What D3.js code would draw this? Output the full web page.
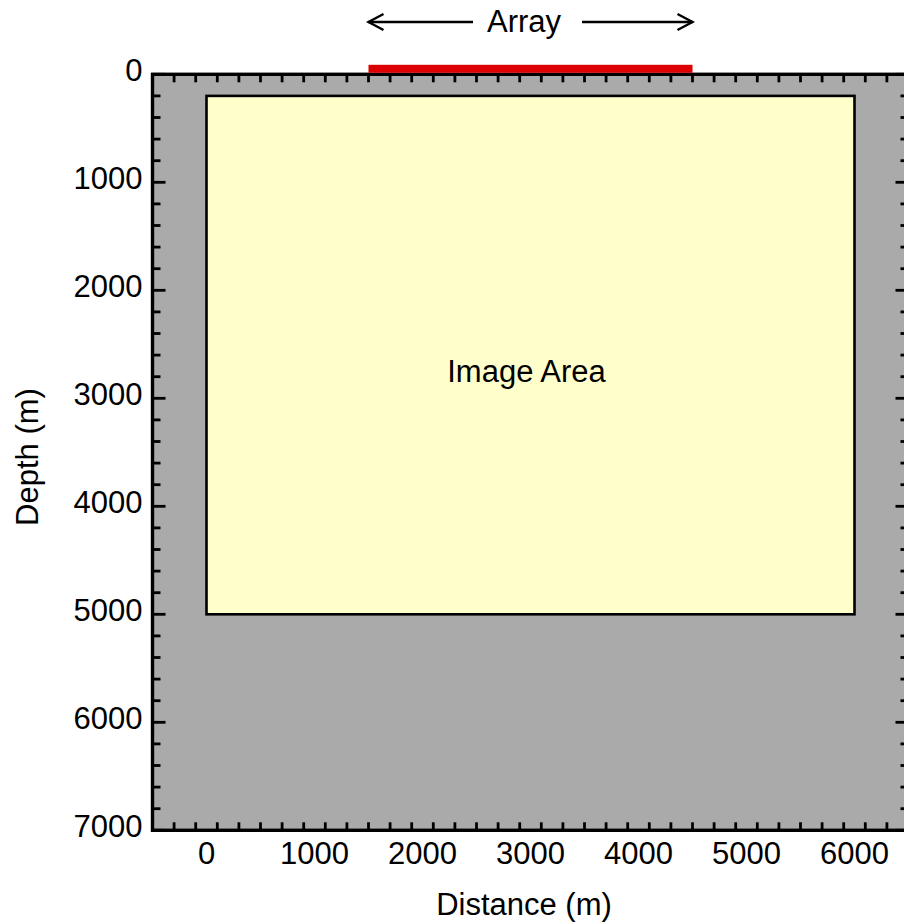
<!DOCTYPE html>
<html>
<head>
<meta charset="utf-8">
<script src="https://cdn.jsdelivr.net/npm/d3@7"></script>
<style>
  html, body { margin: 0; padding: 0; background: #ffffff; }
  svg { display: block; }
  text { font-family: "Liberation Sans", Arial, Helvetica, sans-serif; fill: #000; }
</style>
</head>
<body>
<script>
// Model geometry (metres)
const distanceDomain = [-500, 6500];
const depthDomain = [0, 7000];
const distanceTicks = [0, 1000, 2000, 3000, 4000, 5000, 6000];
const depthTicks = [0, 1000, 2000, 3000, 4000, 5000, 6000, 7000];
const minorStep = 200;
const arrayExtent = [1500, 4500];
const imageAreaDistance = [0, 6000];
const imageAreaDepth = [200, 5000];

const W = 904, H = 924;
const FONT = 31;
const svg = d3.select("body").append("svg").attr("width", W).attr("height", H);

const x = d3.scaleLinear().domain(distanceDomain).range([152.5, 908.5]);
const y = d3.scaleLinear().domain(depthDomain).range([74.3, 830.3]);

const x0 = x(distanceDomain[0]), x1 = x(distanceDomain[1]);
const y0 = y(depthDomain[0]), y1 = y(depthDomain[1]);

// Background of the model domain
svg.append("rect")
  .attr("x", x0).attr("y", y0)
  .attr("width", x1 - x0).attr("height", y1 - y0)
  .attr("fill", "#aaaaaa");

// Image area
svg.append("rect")
  .attr("x", x(imageAreaDistance[0])).attr("y", y(imageAreaDepth[0]))
  .attr("width", x(imageAreaDistance[1]) - x(imageAreaDistance[0]))
  .attr("height", y(imageAreaDepth[1]) - y(imageAreaDepth[0]))
  .attr("fill", "#ffffcc").attr("stroke", "#000").attr("stroke-width", 2.6);

svg.append("text")
  .attr("x", x(3000) - 4).attr("y", y(2750) + 11)
  .attr("text-anchor", "middle").attr("font-size", FONT)
  .text("Image Area");

// Minor / major ticks, drawn inward on all four sides
const minorX = d3.range(distanceDomain[0], distanceDomain[1] + 1, minorStep);
const minorY = d3.range(depthDomain[0], depthDomain[1] + 1, minorStep);
const isMajor = v => v % 1000 === 0;
const MAJ = 13, MIN = 8;

const tickG = svg.append("g").attr("stroke", "#000").attr("stroke-width", 2.8);
minorX.forEach(v => {
  const len = isMajor(v) ? MAJ : MIN;
  tickG.append("line").attr("x1", x(v)).attr("x2", x(v)).attr("y1", y1).attr("y2", y1 - len);
  tickG.append("line").attr("x1", x(v)).attr("x2", x(v)).attr("y1", y0).attr("y2", y0 + len);
});
minorY.forEach(v => {
  const len = isMajor(v) ? MAJ : MIN;
  tickG.append("line").attr("y1", y(v)).attr("y2", y(v)).attr("x1", x0).attr("x2", x0 + len);
  tickG.append("line").attr("y1", y(v)).attr("y2", y(v)).attr("x1", x1).attr("x2", x1 - len);
});

// Frame
svg.append("rect")
  .attr("x", x0).attr("y", y0)
  .attr("width", x1 - x0).attr("height", y1 - y0)
  .attr("fill", "none").attr("stroke", "#000").attr("stroke-width", 3.4);

// Tick labels
svg.append("g").selectAll("text").data(distanceTicks).join("text")
  .attr("x", d => x(d)).attr("y", y1 + 34)
  .attr("text-anchor", "middle").attr("font-size", FONT)
  .text(d => d);

svg.append("g").selectAll("text").data(depthTicks).join("text")
  .attr("x", x0 - 10).attr("y", d => y(d) + 7)
  .attr("text-anchor", "end").attr("font-size", FONT)
  .text(d => d);

// Axis titles
svg.append("text")
  .attr("x", 524).attr("y", 915)
  .attr("text-anchor", "middle").attr("font-size", FONT)
  .text("Distance (m)");

svg.append("text")
  .attr("transform", "translate(38,457) rotate(-90)")
  .attr("text-anchor", "middle").attr("font-size", FONT)
  .text("Depth (m)");

// Receiver array at the surface
svg.append("rect")
  .attr("x", x(arrayExtent[0])).attr("y", y0 - 9.5)
  .attr("width", x(arrayExtent[1]) - x(arrayExtent[0]))
  .attr("height", 8)
  .attr("fill", "#dd0000");

// Array label with extent arrows
const ay = 22;
const arrowG = svg.append("g").attr("stroke", "#000").attr("stroke-width", 2.4).attr("fill", "none");
arrowG.append("line").attr("x1", x(arrayExtent[0])).attr("x2", 473).attr("y1", ay).attr("y2", ay);
arrowG.append("line").attr("x1", 582).attr("x2", x(arrayExtent[1])).attr("y1", ay).attr("y2", ay);
arrowG.append("path")
  .attr("d", `M${x(arrayExtent[0]) + 15},${ay - 8} L${x(arrayExtent[0])},${ay} L${x(arrayExtent[0]) + 15},${ay + 8}`);
arrowG.append("path")
  .attr("d", `M${x(arrayExtent[1]) - 15},${ay - 8} L${x(arrayExtent[1])},${ay} L${x(arrayExtent[1]) - 15},${ay + 8}`);

svg.append("text")
  .attr("x", 524).attr("y", 32)
  .attr("text-anchor", "middle").attr("font-size", FONT)
  .text("Array");
</script>
</body>
</html>
